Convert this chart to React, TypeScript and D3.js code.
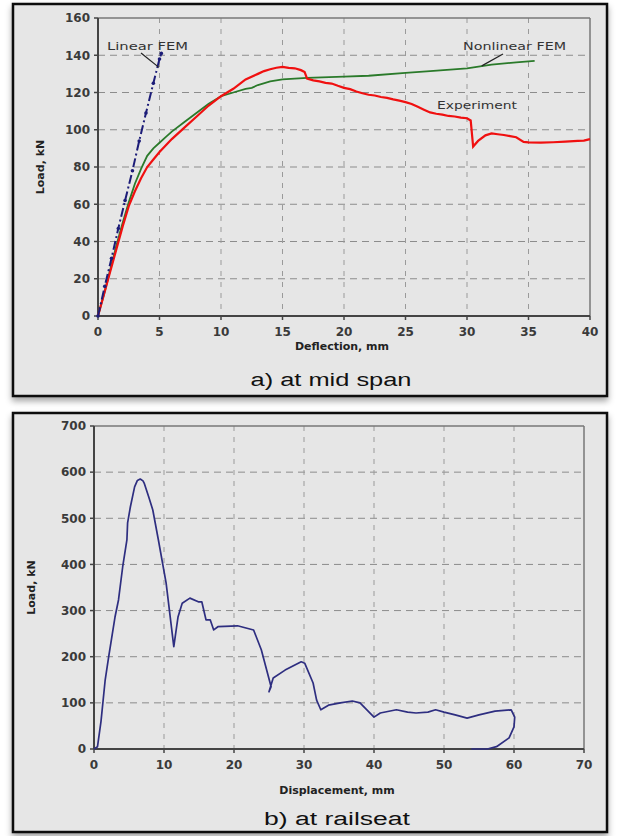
import React from "react";
import * as d3 from "d3";

// ---- a) mid span: [deflection mm, load kN]
const linearFem: [number, number][] = [
  [0, 0], [0.55, 16], [1.1, 31], [1.65, 47], [2.2, 62], [2.8, 78],
  [3.35, 94], [3.9, 109], [4.5, 125], [5.0, 138], [5.15, 141],
];

const nonlinearFem: [number, number][] = [
  [0, 0], [0.5, 12], [1, 25], [1.5, 38], [2, 50], [2.5, 61], [3, 71],
  [3.5, 79], [4, 86], [4.5, 90], [5, 93], [5.5, 96], [6, 99], [7, 104],
  [8, 109], [9, 114], [10, 118], [11, 120], [12, 122], [12.5, 122.5], [13, 124],
  [14, 126], [15, 127], [17, 127.8], [20, 128.5], [22, 129], [25, 130.5],
  [27, 131.5], [30, 133], [32, 135], [34, 136.2], [35.5, 137],
];

const experiment: [number, number][] = [
  [0, 0], [0.5, 12], [1, 24], [1.5, 36], [2, 48], [2.5, 59], [3, 67],
  [3.5, 74], [4, 80], [4.5, 84], [5, 88], [6, 95], [7, 101], [8, 107],
  [9, 113], [10, 118], [11, 122], [12, 127], [13, 130], [13.5, 131.5],
  [14, 132.5], [14.5, 133.3], [15, 133.8], [15.5, 133.2], [16, 133],
  [16.5, 132], [16.8, 131], [17, 127.5], [17.5, 126.5], [18, 126],
  [18.5, 125.2], [19, 124.8], [19.5, 123.6], [20, 122.5], [20.5, 121.8],
  [21, 120.5], [21.5, 119.6], [22, 118.8], [22.5, 118.4], [23, 117.6],
  [23.5, 117.1], [24, 116.3], [24.5, 115.6], [25, 114.8], [25.5, 113.8],
  [26, 112.3], [26.5, 110.8], [27, 109.3], [27.5, 108.6], [28, 108.1],
  [28.5, 107.4], [29, 107.1], [29.5, 106.5], [30, 106.2], [30.3, 105],
  [30.5, 91], [30.9, 94], [31.5, 97], [32, 98], [32.5, 97.6], [33, 97.2],
  [33.5, 96.6], [34, 96], [34.6, 93.5], [35, 93.2], [36, 93.1], [37, 93.3],
  [38, 93.6], [39, 94], [39.5, 94.2], [40, 95],
];

const midXTicks = [0, 5, 10, 15, 20, 25, 30, 35, 40];
const midYTicks = [0, 20, 40, 60, 80, 100, 120, 140, 160];

// ---- b) railseat: [displacement mm, load kN]
const railseat: [number, number][] = [
  [0, 0], [0.5, 5], [1, 60], [1.6, 150], [2.1, 200], [3, 286], [3.5, 323],
  [4.1, 395], [4.7, 453], [4.8, 490], [5.2, 525], [5.8, 568], [6.2, 582],
  [6.6, 585], [7.0, 581], [7.2, 575], [7.8, 547], [8.4, 518], [9.2, 453],
  [10.3, 360], [11.4, 222], [12, 286], [12.6, 316], [13.7, 327], [14.9, 319],
  [15.4, 319], [16, 280], [16.6, 280], [17.1, 258], [17.7, 265], [20.5, 267],
  [22.8, 258], [23.9, 215], [25.3, 135], [25, 124], [25.6, 154], [27.3, 171],
  [29.6, 189], [30.1, 186], [31.3, 143], [31.8, 106], [32.4, 85], [33.5, 95],
  [35.2, 100], [36.9, 104], [38, 100], [40, 69], [40.9, 78], [43.2, 85],
  [44.8, 80], [46, 78], [47.7, 80], [48.8, 85], [50, 80], [51.6, 74],
  [53.3, 67], [55, 74], [57.3, 82], [59.6, 85], [60.1, 69], [60, 48],
  [59.3, 24], [57.5, 5], [56.2, 0], [53.9, 0],
];

const railXTicks = [0, 10, 20, 30, 40, 50, 60, 70];
const railYTicks = [0, 100, 200, 300, 400, 500, 600, 700];

const wideFont = "'DejaVu Sans', Verdana, sans-serif";
const capFont = "'Liberation Sans', Arial, sans-serif";

interface PanelProps {
  top: number;
  height: number;
  plot: { x0: number; x1: number; y0: number; y1: number };
  xDomain: [number, number];
  yDomain: [number, number];
  xTicks: number[];
  yTicks: number[];
  xTitle: string;
  xTitleY: number;
  yTitleX: number;
  caption: string;
  captionX: number;
  captionY: number;
  captionW: number;
  children: (
    x: d3.ScaleLinear<number, number>,
    y: d3.ScaleLinear<number, number>
  ) => React.ReactNode;
}

const Panel: React.FC<PanelProps> = (p) => {
  const x = d3.scaleLinear().domain(p.xDomain).range([p.plot.x0, p.plot.x1]);
  const y = d3.scaleLinear().domain(p.yDomain).range([p.plot.y1, p.plot.y0]);
  const { x0, x1, y0, y1 } = p.plot;
  return (
    <g>
      <rect x={13} y={p.top} width={594} height={p.height} fill="#e6e6e6" stroke="#111" strokeWidth={2.5} filter="url(#shadow)" />
      {/* grid */}
      {p.yTicks.slice(1, -1).map((t) => (
        <line key={"gy" + t} x1={x0} x2={x1} y1={y(t)} y2={y(t)} stroke="#8c8c8c" strokeWidth={1} strokeDasharray="7,5" />
      ))}
      {p.xTicks.slice(1, -1).map((t) => (
        <line key={"gx" + t} x1={x(t)} x2={x(t)} y1={y0} y2={y1} stroke="#9a9a9a" strokeWidth={1} strokeDasharray="5,6" />
      ))}
      {/* frame */}
      <line x1={x0} x2={x1} y1={y0} y2={y0} stroke="#777" strokeWidth={1.5} />
      <line x1={x1} x2={x1} y1={y0} y2={y1} stroke="#777" strokeWidth={1.5} />
      <line x1={x0} x2={x0} y1={y0} y2={y1} stroke="#444" strokeWidth={2} />
      <line x1={x0} x2={x1} y1={y1} y2={y1} stroke="#444" strokeWidth={2} />
      {/* ticks */}
      {p.yTicks.map((t) => (
        <g key={"ty" + t}>
          <line x1={x0 - 4} x2={x0} y1={y(t)} y2={y(t)} stroke="#444" strokeWidth={1.5} />
          <text x={x0 - 8} y={y(t)} dy="0.36em" textAnchor="end" fontFamily={wideFont} fontWeight="bold" fontSize={12} fill="#3a3a3a">{t}</text>
        </g>
      ))}
      {p.xTicks.map((t) => (
        <g key={"tx" + t}>
          <line x1={x(t)} x2={x(t)} y1={y1} y2={y1 + 4} stroke="#444" strokeWidth={1.5} />
          <text x={x(t)} y={y1 + 16} dy="0.36em" textAnchor="middle" fontFamily={wideFont} fontWeight="bold" fontSize={12} fill="#3a3a3a">{t}</text>
        </g>
      ))}
      <text x={(x0 + x1) / 2 - 2} y={p.xTitleY} textAnchor="middle" fontFamily={wideFont} fontWeight="bold" fontSize={11} fill="#222">{p.xTitle}</text>
      <text transform={`translate(${p.yTitleX},${(y0 + y1) / 2}) rotate(-90)`} textAnchor="middle" fontFamily={wideFont} fontWeight="bold" fontSize={11} fill="#222">Load, kN</text>
      <text x={p.captionX} y={p.captionY} textAnchor="middle" fontFamily={capFont} fontSize={18} textLength={p.captionW} lengthAdjust="spacingAndGlyphs" fill="#111">{p.caption}</text>
      {p.children(x, y)}
    </g>
  );
};

export default function App() {
  const line = (x: d3.ScaleLinear<number, number>, y: d3.ScaleLinear<number, number>) =>
    d3.line<[number, number]>().x((d) => x(d[0])).y((d) => y(d[1]));

  return (
    <svg width={621} height={836} style={{ position: "absolute", left: 0, top: 0, background: "#fff" }}>
      <defs>
        <filter id="shadow" x="-5%" y="-5%" width="110%" height="115%">
          <feDropShadow dx="0" dy="4" stdDeviation="3" floodColor="#000" floodOpacity="0.35" />
        </filter>
      </defs>
      <Panel
        top={4}
        height={392}
        plot={{ x0: 98, x1: 590, y0: 18, y1: 316 }}
        xDomain={[0, 40]}
        yDomain={[0, 160]}
        xTicks={midXTicks}
        yTicks={midYTicks}
        xTitle="Deflection, mm"
        xTitleY={350}
        yTitleX={44}
        caption="a) at mid span"
        captionX={331}
        captionY={386}
        captionW={161}
      >
        {(x, y) => {
          const l = line(x, y);
          return (
            <g>
              <path d={l(nonlinearFem) || ""} fill="none" stroke="#2a7a2a" strokeWidth={1.8} />
              <path d={l(experiment) || ""} fill="none" stroke="#f01010" strokeWidth={2.2} />
              <path d={l(linearFem) || ""} fill="none" stroke="#1c1c78" strokeWidth={2} strokeDasharray="9,3,2,3" />
              {linearFem.map((d, i) => (
                <circle key={i} cx={x(d[0])} cy={y(d[1])} r={1.8} fill="#1c1c78" />
              ))}
              <text x={107} y={50} fontFamily={wideFont} fontSize={11} textLength={81} lengthAdjust="spacingAndGlyphs" fill="#333">Linear FEM</text>
              <line x1={141} y1={53} x2={x(4.95)} y2={y(133.5)} stroke="#222" strokeWidth={1.2} />
              <text x={463} y={50} fontFamily={wideFont} fontSize={11} textLength={103} lengthAdjust="spacingAndGlyphs" fill="#333">Nonlinear FEM</text>
              <line x1={503} y1={54} x2={x(31.2)} y2={y(134.3)} stroke="#222" strokeWidth={1.2} />
              <text x={437} y={109} fontFamily={wideFont} fontSize={11} textLength={80} lengthAdjust="spacingAndGlyphs" fill="#333">Experiment</text>
            </g>
          );
        }}
      </Panel>
      <Panel
        top={413}
        height={419}
        plot={{ x0: 94, x1: 584, y0: 426, y1: 749 }}
        xDomain={[0, 70]}
        yDomain={[0, 700]}
        xTicks={railXTicks}
        yTicks={railYTicks}
        xTitle="Displacement, mm"
        xTitleY={794}
        yTitleX={35}
        caption="b) at railseat"
        captionX={337}
        captionY={825}
        captionW={146}
      >
        {(x, y) => (
          <path d={line(x, y)(railseat) || ""} fill="none" stroke="#2e2e80" strokeWidth={1.7} strokeLinejoin="round" />
        )}
      </Panel>
    </svg>
  );
}
